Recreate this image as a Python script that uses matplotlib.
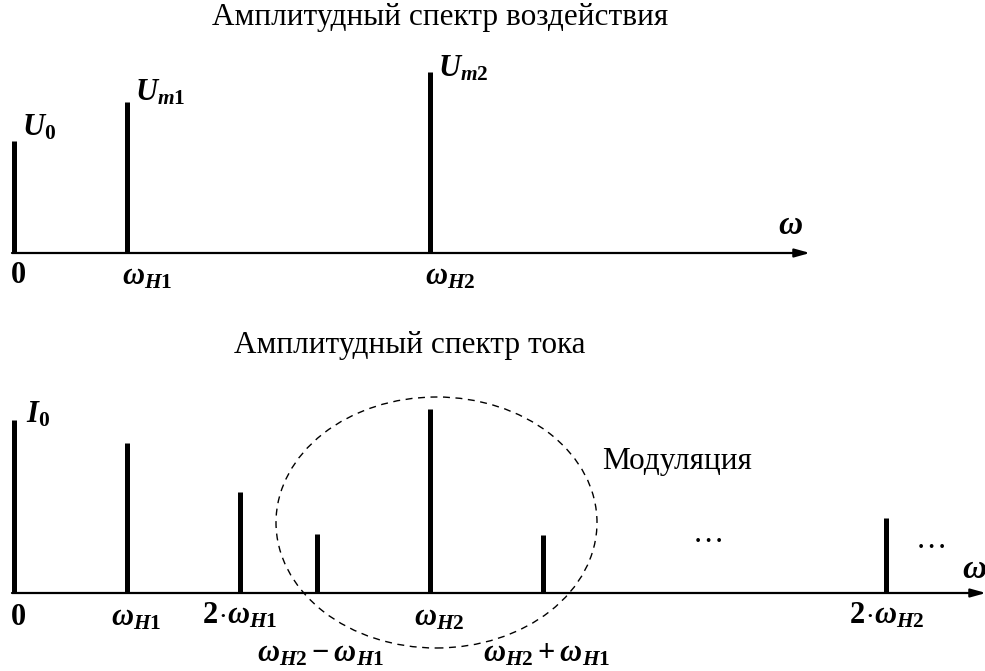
""" amplitude spectra: input signal and current """
import matplotlib
matplotlib.use('Agg')
import matplotlib.pyplot as plt
from matplotlib.patches import Ellipse

plt.rcParams['font.family'] = ['Liberation Serif', 'DejaVu Serif']
plt.rcParams['mathtext.fontset'] = 'custom'
plt.rcParams['mathtext.it'] = 'Liberation Serif:italic:bold'
plt.rcParams['mathtext.rm'] = 'Liberation Serif:bold'
plt.rcParams['mathtext.bf'] = 'Liberation Serif:bold'

# frequencies in units of w_H1 (w_H2 ~ 3.68 w_H1 as drawn)
u_freq = [0, 1, 3.68]
u_amp = [112, 151, 181]
u_names = [r'$U_{0}$', r'$U_{m1}$', r'$U_{m2}$']
u_ticks = ['0', r'$\omega_{H1}$', r'$\omega_{H2}$']

i_freq = [0, 1, 2, 2.68, 3.68, 4.68, 7.72]
i_amp = [173, 150, 101, 59, 184, 58, 75]
i_ticks = ['0', r'$\omega_{H1}$', r'$2\!\cdot\!\omega_{H1}$', r'$\omega_{H2}-\omega_{H1}$',
           r'$\omega_{H2}$', r'$\omega_{H2}+\omega_{H1}$', r'$2\!\cdot\!\omega_{H2}$']

W, H = 985, 671
X0, DX = 14, 113   # pixel of zero frequency, pixels per w_H1
FS = 22            # math labels
TS = 22.5          # plain text


def make_axes(fig, top_px, bot_px, base_px):
    ax = fig.add_axes([0, 1 - bot_px / H, 1, (bot_px - top_px) / H])
    ax.set_xlim(-X0 / DX, (W - X0) / DX)
    ax.set_ylim(base_px - bot_px, base_px - top_px)
    ax.axis('off')
    return ax


def px(x):
    return (x - X0) / DX


fig = plt.figure(figsize=(W / 100, H / 100), dpi=100)

# ---- top: spectrum of the input ----
ax1 = make_axes(fig, 40, 300, 253)
ax1.annotate('', xy=(px(810), 0), xytext=(px(12), 0),
             arrowprops=dict(arrowstyle='-|>,head_length=0.9,head_width=0.25',
                             lw=1.6, color='black', shrinkA=0, shrinkB=0))
ax1.vlines(u_freq, 0, u_amp, colors='black', lw=3.6)
ax1.text(px(790), 12, r'$\omega$', fontsize=FS + 2, ha='center', va='bottom')
for f, a, n, dy in zip(u_freq, u_amp, u_names, [28, 24, 18]):
    ax1.text(f + 0.07, a + dy, n, fontsize=FS, ha='left', va='top')
for f, t in zip(u_freq, u_ticks):
    if t == '0':
        ax1.text(f + 0.035, -8, t, fontsize=FS, fontweight='bold', ha='center', va='top')
    else:
        ax1.text(f - 0.04, -9, t, fontsize=FS, ha='left', va='top')
fig.text(440 / W, 1 - 18 / H, 'Амплитудный спектр воздействия', fontsize=TS,
         ha='center', va='center')

# ---- bottom: spectrum of the current ----
ax2 = make_axes(fig, 370, 671, 593)
ax2.annotate('', xy=(px(986), 0), xytext=(px(12), 0),
             arrowprops=dict(arrowstyle='-|>,head_length=0.9,head_width=0.25',
                             lw=1.6, color='black', shrinkA=0, shrinkB=0),
             annotation_clip=False)
ax2.vlines(i_freq, 0, i_amp, colors='black', lw=3.6)
ax2.text(px(974), 8, r'$\omega$', fontsize=FS + 2, ha='center', va='bottom')
ax2.text(i_freq[0] + 0.11, i_amp[0] + 20, r'$I_{0}$', fontsize=FS,
         ha='left', va='top')
for k, (f, t) in enumerate(zip(i_freq, i_ticks)):
    if t == '0':
        ax2.text(f + 0.035, -10, t, fontsize=FS, fontweight='bold', ha='center', va='top')
    elif k in (3, 5):
        ax2.text(f + 0.03, -47, t, fontsize=FS, ha='center', va='top')
    elif k in (2, 6):
        ax2.text(f - 0.0, -8, t, fontsize=FS, ha='center', va='top')
    else:
        ax2.text(f - 0.14, -10, t, fontsize=FS, ha='left', va='top')

ax2.add_patch(Ellipse((px(436.5), 593 - 522.5), 321 / DX, 251, fill=False,
                      ec='black', lw=1.0, ls=(0, (5, 4)), clip_on=False))
ax2.text(px(602), 593 - 461, 'Модуляция', fontsize=TS, ha='left', va='center')
ax2.text(px(708), 593 - 534, '…', fontsize=TS, ha='center', va='center')
ax2.text(px(931), 593 - 541, '…', fontsize=TS, ha='center', va='center')
fig.text(410 / W, 1 - 346 / H, 'Амплитудный спектр тока', fontsize=TS,
         ha='center', va='center')

plt.savefig('out.png', dpi=100)
